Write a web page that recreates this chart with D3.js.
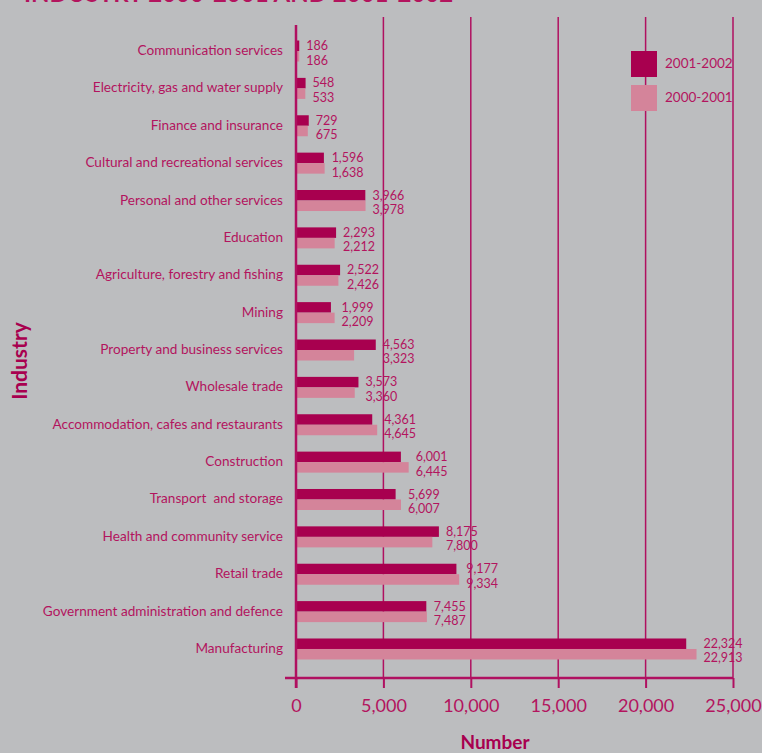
<!DOCTYPE html>
<html><head><meta charset="utf-8">
<script src="https://cdn.jsdelivr.net/npm/d3@7"></script>
<style>
html,body{margin:0;padding:0;background:#bcbdbf;}
svg{display:block;}
text{font-family:Lato,"Open Sans",sans-serif;white-space:pre;}
</style></head>
<body>
<svg id="chart" width="762" height="753"></svg>
<script>
const categories = [
  "Communication services",
  "Electricity, gas and water supply",
  "Finance and insurance",
  "Cultural and recreational services",
  "Personal and other services",
  "Education",
  "Agriculture, forestry and fishing",
  "Mining",
  "Property and business services",
  "Wholesale trade",
  "Accommodation, cafes and restaurants",
  "Construction",
  "Transport  and storage",
  "Health and community service",
  "Retail trade",
  "Government administration and defence",
  "Manufacturing"
];
const series2001_2002 = [186, 548, 729, 1596, 3966, 2293, 2522, 1999, 4563, 3573, 4361, 6001, 5699, 8175, 9177, 7455, 22324];
const series2000_2001 = [186, 533, 675, 1638, 3978, 2212, 2426, 2209, 3323, 3360, 4645, 6445, 6007, 7800, 9334, 7487, 22913];
const seriesNames = ["2001-2002", "2000-2001"];
const xTicks = [0, 5000, 10000, 15000, 20000, 25000];
const titleText = "INDUSTRY 2000-2001 AND 2001-2002";

const dark = "#a8004f", light = "#d4849a", ink = "#b3145e", grid = "#b01060";
const svg = d3.select("#chart");

const x = d3.scaleLinear().domain([0, 25000]).range([296, 733]);
const y = d3.scaleBand().domain(categories).range([29.3, 670.7]).paddingInner(0.438).paddingOuter(0.3);
const fmt = d3.format(",");

// title (cut off at top, as in the reference)
svg.append("text").attr("x", 24).attr("y", 2).attr("fill", ink)
  .attr("font-size", 24).attr("font-weight", 700).text(titleText);

// gridlines
svg.append("g").selectAll("line").data(xTicks.slice(1)).join("line")
  .attr("x1", d => x(d)).attr("x2", d => x(d))
  .attr("y1", 17).attr("y2", 678)
  .attr("stroke", grid).attr("stroke-width", 1.5);

// bars
const bh = y.bandwidth() / 2;
const rows = svg.append("g").selectAll("g").data(categories).join("g")
  .attr("transform", d => `translate(0,${y(d)})`);
rows.append("rect").attr("x", x(0)).attr("y", 0)
  .attr("width", (d, i) => x(series2001_2002[i]) - x(0)).attr("height", bh).attr("fill", dark);
rows.append("rect").attr("x", x(0)).attr("y", bh)
  .attr("width", (d, i) => x(series2000_2001[i]) - x(0)).attr("height", bh).attr("fill", light);
rows.append("text")
  .attr("x", (d, i) => x(Math.max(series2001_2002[i], series2000_2001[i])) + 7)
  .attr("y", bh - 1).attr("fill", ink).attr("font-size", 12.5)
  .text((d, i) => fmt(series2001_2002[i]));
rows.append("text")
  .attr("x", (d, i) => x(Math.max(series2001_2002[i], series2000_2001[i])) + 7)
  .attr("y", bh + 13.5).attr("fill", ink).attr("font-size", 12.5)
  .text((d, i) => fmt(series2000_2001[i]));

// category labels
svg.append("g").selectAll("text").data(categories).join("text")
  .attr("x", 283).attr("y", d => y(d) + bh + 4)
  .attr("text-anchor", "end").attr("fill", ink).attr("font-size", 13.6)
  .text(d => d);

// y axis line
svg.append("line").attr("x1", x(0)).attr("x2", x(0)).attr("y1", 25).attr("y2", 688)
  .attr("stroke", grid).attr("stroke-width", 2.5);

// x axis
const xAxis = d3.axisBottom(x).tickValues(xTicks).tickFormat(fmt).tickSize(10).tickPadding(11);
const gx = svg.append("g").attr("transform", "translate(0,678)").call(xAxis);
gx.select(".domain").remove();
gx.append("line").attr("x1", 285).attr("x2", 733).attr("stroke", grid).attr("stroke-width", 2.5);
gx.selectAll(".tick line").attr("stroke", grid).attr("stroke-width", 2);
gx.selectAll(".tick text").attr("fill", ink).attr("font-size", 18)
  .attr("font-family", "Lato, sans-serif");

// axis titles
svg.append("text").attr("x", 495).attr("y", 749).attr("text-anchor", "middle")
  .attr("fill", dark).attr("font-size", 19).attr("font-weight", 700).text("Number");
svg.append("text").attr("transform", "translate(27,361) rotate(-90)").attr("text-anchor", "middle")
  .attr("fill", dark).attr("font-size", 21).attr("font-weight", 700).text("Industry");

// legend
const leg = svg.append("g").attr("transform", "translate(631,51)");
const lg = leg.selectAll("g").data(seriesNames).join("g")
  .attr("transform", (d, i) => `translate(0,${i * 34})`);
lg.append("rect").attr("width", 26).attr("height", 26).attr("fill", (d, i) => i === 0 ? dark : light);
lg.append("text").attr("x", 34).attr("y", 17).attr("fill", ink).attr("font-size", 13.5).text(d => d);
</script>
</body></html>
